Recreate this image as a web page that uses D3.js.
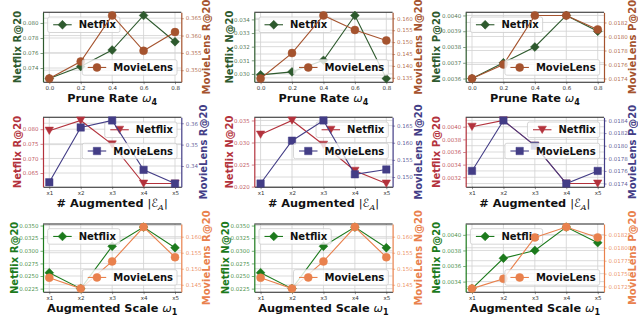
<!DOCTYPE html>
<html><head><meta charset="utf-8">
<script src="https://cdn.jsdelivr.net/npm/d3@7"></script>
<style>body{margin:0;background:#fff}svg{display:block}text{font-family:"DejaVu Sans",sans-serif}</style>
</head><body><svg id="c" width="638" height="320"></svg>
<script>
// ---------- data ----------
const prunePoints = [0, 0.2, 0.4, 0.6, 0.8];
const pruneTickLabels = ["0.0", "0.2", "0.4", "0.6", "0.8"];
const augPoints = [1, 2, 3, 4, 5];
const augTickLabels = ["x1", "x2", "x3", "x4", "x5"];

// row 1: prune rate
const netflixRecallPrune = [0.0726, 0.0742, 0.0764, 0.0810, 0.0775];
const movielensRecallPrune = [0.3476, 0.3525, 0.3658, 0.3556, 0.3610];
const netflixNdcgPrune = [0.02993, 0.03015, 0.03100, 0.03429, 0.02966];
const movielensNdcgPrune = [0.1347, 0.1454, 0.1612, 0.1551, 0.1507];
const netflixPrecPrune = [0.0036, 0.0037, 0.0038, 0.0040, 0.0039];
const movielensPrecPrune = [0.0174, 0.0176, 0.0183, 0.0183, 0.0181];
// row 2: number of augmented edges
const netflixRecallAug = [0.0795, 0.0830, 0.0748, 0.0614, 0.0614];
const movielensRecallAug = [0.3324, 0.3580, 0.3613, 0.3382, 0.3318];
const netflixNdcgAug = [0.0318, 0.0350, 0.0295, 0.0236, 0.0207];
const movielensNdcgAug = [0.1481, 0.1606, 0.1665, 0.1508, 0.1522];
const netflixPrecAug = [0.0040, 0.0041, 0.0037, 0.0031, 0.0031];
const movielensPrecAug = [0.0176, 0.0184, 0.0180, 0.0174, 0.0176];
// row 3: augmented scale
const netflixRecallScale = [0.02565, 0.0225, 0.0309, 0.0347, 0.0306];
const movielensRecallScale = [0.1472, 0.1438, 0.1523, 0.1630, 0.1536];
const netflixNdcgScale = [0.02565, 0.0225, 0.0309, 0.0347, 0.0306];
const movielensNdcgScale = [0.1472, 0.1438, 0.1523, 0.1630, 0.1536];
const netflixPrecScale = [0.00331, 0.0037, 0.0038, 0.0041, 0.0039];
const movielensPrecScale = [0.01721, 0.0174, 0.0182, 0.0184, 0.0182];

// tick values
const ticksNfRecallPrune = [0.074, 0.076, 0.078, 0.080];
const ticksMlRecallPrune = [0.350, 0.355, 0.360, 0.365];
const ticksNfNdcgPrune = [0.030, 0.031, 0.032, 0.033, 0.034];
const ticksMlNdcgPrune = [0.135, 0.140, 0.145, 0.150, 0.155, 0.160];
const ticksNfPrecPrune = [0.0036, 0.0037, 0.0038, 0.0039, 0.0040];
const ticksMlPrecPrune = [0.0174, 0.0176, 0.0178, 0.0180, 0.0182];
const ticksNfRecallAug = [0.065, 0.070, 0.075, 0.080];
const ticksMlRecallAug = [0.34, 0.35, 0.36];
const ticksNfNdcgAug = [0.020, 0.025, 0.030, 0.035];
const ticksMlNdcgAug = [0.150, 0.155, 0.160, 0.165];
const ticksNfPrecAug = [0.0032, 0.0034, 0.0036, 0.0038, 0.0040];
const ticksMlPrecAug = [0.0174, 0.0176, 0.0178, 0.0180, 0.0182, 0.0184];
const ticksNfScale = [0.0225, 0.0250, 0.0275, 0.0300, 0.0325, 0.0350];
const ticksMlScale = [0.145, 0.150, 0.155, 0.160];
const ticksNfPrecScale = [0.0034, 0.0036, 0.0038, 0.0040];
const ticksMlPrecScale = [0.01725, 0.01750, 0.01775, 0.01800, 0.01825];

// ---------- styling ----------
const markerDiamond = {draw(c, r){c.moveTo(0,-r);c.lineTo(r,0);c.lineTo(0,r);c.lineTo(-r,0);c.closePath();}};
const markerCircle = {draw(c, r){c.moveTo(r,0);c.arc(0,0,r,0,2*Math.PI);c.closePath();}};
const markerTriDown = {draw(c, r){c.moveTo(-r,-r*0.85);c.lineTo(r,-r*0.85);c.lineTo(0,r*0.9);c.closePath();}};
const markerSquare = {draw(c, r){c.rect(-r,-r,2*r,2*r);}};

const themes = [
  {nf:"#2e5a2e", ml:"#a5532e", nfM:markerDiamond, nfR:4.4, mlM:markerCircle, mlR:4, nfLeg:"ul", mlLeg:"lr"},
  {nf:"#b3323c", ml:"#433d86", nfM:markerTriDown, nfR:4.2, mlM:markerSquare, mlR:3.7, nfLeg:"ur", mlLeg:"cr"},
  {nf:"#1c7a1c", ml:"#e9814d", nfM:markerDiamond, nfR:4.4, mlM:markerCircle, mlR:4, nfLeg:"ul", mlLeg:"lr"}
];

const titleParts = [
  [{t:"Prune Rate "},{t:"\u03c9",it:true},{t:"4",sub:true}],
  [{t:"# Augmented "},{t:"|",plain:true},{t:"\u2130",plain:true},{t:"A",sub:true,it:true,serif:true},{t:"|",plain:true}],
  [{t:"Augmented Scale "},{t:"\u03c9",it:true},{t:"1",sub:true}]
];

const panels = [
  {row:0,col:0,xs:prunePoints,xl:pruneTickLabels,nf:netflixRecallPrune,ml:movielensRecallPrune,lt:ticksNfRecallPrune,rt:ticksMlRecallPrune,lf:".3f",rf:".3f",ly:"Netflix R@20",ry:"MovieLens R@20"},
  {row:0,col:1,xs:prunePoints,xl:pruneTickLabels,nf:netflixNdcgPrune,ml:movielensNdcgPrune,lt:ticksNfNdcgPrune,rt:ticksMlNdcgPrune,lf:".3f",rf:".3f",ly:"Netflix N@20",ry:"MovieLens N@20"},
  {row:0,col:2,xs:prunePoints,xl:pruneTickLabels,nf:netflixPrecPrune,ml:movielensPrecPrune,lt:ticksNfPrecPrune,rt:ticksMlPrecPrune,lf:".4f",rf:".4f",ly:"Netflix P@20",ry:"MovieLens P@20"},
  {row:1,col:0,xs:augPoints,xl:augTickLabels,nf:netflixRecallAug,ml:movielensRecallAug,lt:ticksNfRecallAug,rt:ticksMlRecallAug,lf:".3f",rf:".2f",ly:"Netflix R@20",ry:"MovieLens R@20"},
  {row:1,col:1,xs:augPoints,xl:augTickLabels,nf:netflixNdcgAug,ml:movielensNdcgAug,lt:ticksNfNdcgAug,rt:ticksMlNdcgAug,lf:".3f",rf:".3f",ly:"Netflix N@20",ry:"MovieLens N@20"},
  {row:1,col:2,xs:augPoints,xl:augTickLabels,nf:netflixPrecAug,ml:movielensPrecAug,lt:ticksNfPrecAug,rt:ticksMlPrecAug,lf:".4f",rf:".4f",ly:"Netflix P@20",ry:"MovieLens P@20"},
  {row:2,col:0,xs:augPoints,xl:augTickLabels,nf:netflixRecallScale,ml:movielensRecallScale,lt:ticksNfScale,rt:ticksMlScale,lf:".4f",rf:".3f",ly:"Netflix R@20",ry:"MovieLens R@20"},
  {row:2,col:1,xs:augPoints,xl:augTickLabels,nf:netflixNdcgScale,ml:movielensNdcgScale,lt:ticksNfScale,rt:ticksMlScale,lf:".4f",rf:".3f",ly:"Netflix N@20",ry:"MovieLens N@20"},
  {row:2,col:2,xs:augPoints,xl:augTickLabels,nf:netflixPrecScale,ml:movielensPrecScale,lt:ticksNfPrecScale,rt:ticksMlPrecScale,lf:".4f",rf:".5f",ly:"Netflix P@20",ry:"MovieLens P@20"}
];

const colLeft = [43, 254.3, 465.7], plotW = 138.3;
const rowTop = [12.3, 117.3, 224], rowH = [69.4, 69.4, 67.7];
const TICK_FS = 5.5;

const svg = d3.select("#c");
svg.append("rect").attr("width",638).attr("height",320).attr("fill","#fff");

function padDomain(vals, frac){
  const [a,b] = d3.extent(vals); const p = (b-a)*frac; return [a-p, b+p];
}

function drawLegend(g, kind, label, color, marker, mr, L, R, T, B){
  const h = 15.5;
  const lg = g.append("g");
  const box = lg.append("rect").attr("rx",2).attr("ry",2)
    .attr("fill","#fff").attr("fill-opacity",0.8).attr("stroke","#cccccc").attr("stroke-width",0.8);
  const txt = lg.append("text").attr("font-size",10).attr("font-weight","bold").attr("fill","#111").text(label);
  const tw = txt.node().getComputedTextLength();
  const w = 31 + tw + 4;
  let x, y;
  if (kind==="ul"){ x = L+4.7; y = T+4.7; }
  else if (kind==="ur"){ x = R-4.3-w; y = T+4.7; }
  else if (kind==="lr"){ x = R-4.3-w; y = B-6.5-h; }
  else { x = R-4.3-w; y = (T+B)/2 - h/2 - 1; }
  box.attr("x",x).attr("y",y).attr("width",w).attr("height",h);
  txt.attr("x",x+31).attr("y",y+h/2+3.6);
  lg.append("line").attr("x1",x+5.5).attr("x2",x+24).attr("y1",y+h/2).attr("y2",y+h/2)
    .attr("stroke",color).attr("stroke-width",1.1);
  lg.append("path").attr("d",d3.symbol().type(marker).size(mr)()).attr("transform",`translate(${x+14.75},${y+h/2})`)
    .attr("fill",color).attr("stroke",color).attr("stroke-width",0.5);
}

panels.forEach(p => {
  const th = themes[p.row];
  const L = colLeft[p.col], R = L+plotW, T = rowTop[p.row], B = T+rowH[p.row];
  const g = svg.append("g");
  const xd = d3.extent(p.xs), xp = (xd[1]-xd[0])*0.05;
  const x = d3.scaleLinear().domain([xd[0]-xp, xd[1]+xp]).range([L,R]);
  const yL = d3.scaleLinear().domain(padDomain(p.nf,0.05)).range([B,T]);
  const yR = d3.scaleLinear().domain(padDomain(p.ml,0.05)).range([B,T]);

  // grid
  const grid = g.append("g").attr("stroke","#d2d2d2").attr("stroke-width",0.8);
  p.xs.forEach(v => grid.append("line").attr("x1",x(v)).attr("x2",x(v)).attr("y1",T).attr("y2",B));
  p.lt.forEach(v => grid.append("line").attr("x1",L).attr("x2",R).attr("y1",yL(v)).attr("y2",yL(v)));
  p.rt.forEach(v => grid.append("line").attr("x1",L).attr("x2",R).attr("y1",yR(v)).attr("y2",yR(v)));

  // axes
  const ax = g.append("g").attr("transform",`translate(0,${B})`)
    .call(d3.axisBottom(x).tickValues(p.xs).tickFormat((d,i)=>p.xl[i]).tickSize(2.5).tickPadding(1.5).tickSizeOuter(0));
  ax.select(".domain").attr("stroke","#222").attr("stroke-width",1.1);
  ax.selectAll(".tick line").attr("stroke","#444").attr("stroke-width",0.6);
  ax.selectAll(".tick text").attr("font-size",TICK_FS).attr("fill","#333").attr("font-family","DejaVu Sans");

  const al = g.append("g").attr("transform",`translate(${L},0)`)
    .call(d3.axisLeft(yL).tickValues(p.lt).tickFormat(d3.format(p.lf)).tickSize(2.5).tickPadding(2).tickSizeOuter(0));
  al.select(".domain").attr("stroke",th.nf).attr("stroke-width",1.2);
  al.selectAll(".tick line").attr("stroke",th.nf).attr("stroke-width",0.6);
  al.selectAll(".tick text").attr("font-size",TICK_FS).attr("fill",th.nf).attr("fill-opacity",0.85).attr("font-family","DejaVu Sans");

  const ar = g.append("g").attr("transform",`translate(${R},0)`)
    .call(d3.axisRight(yR).tickValues(p.rt).tickFormat(d3.format(p.rf)).tickSize(2.5).tickPadding(2).tickSizeOuter(0));
  ar.select(".domain").attr("stroke",th.ml).attr("stroke-width",1.2);
  ar.selectAll(".tick line").attr("stroke",th.ml).attr("stroke-width",0.6);
  ar.selectAll(".tick text").attr("font-size",TICK_FS).attr("fill",th.ml).attr("fill-opacity",0.85).attr("font-family","DejaVu Sans");

  g.append("line").attr("x1",L).attr("x2",R).attr("y1",T).attr("y2",T).attr("stroke","#222").attr("stroke-width",1.1);

  // y labels
  const lb = al.node().getBBox();
  g.append("text").attr("transform",`translate(${L+lb.x-1.5},${(T+B)/2}) rotate(-90)`)
    .attr("text-anchor","middle").attr("font-size",10).attr("font-weight","bold").attr("fill",th.nf).text(p.ly);
  const rb = ar.node().getBBox();
  const rx = Math.min(R+rb.x+rb.width+8.3, 635.5);
  g.append("text").attr("transform",`translate(${rx},${(T+B)/2}) rotate(-90)`)
    .attr("text-anchor","middle").attr("font-size",10).attr("font-weight","bold").attr("fill",th.ml).text(p.ry);

  // x title
  const xt = g.append("text").attr("x",(L+R)/2).attr("y",B+19.8).attr("text-anchor","middle")
    .attr("font-size",11.3).attr("font-weight","bold").attr("fill","#111");
  let shifted = false;
  titleParts[p.row].forEach(part => {
    const ts = xt.append("tspan").text(part.t);
    if (part.it) ts.attr("font-style","italic").attr("font-weight","normal");
    if (part.plain) ts.attr("font-weight","normal");
    if (part.serif) ts.attr("font-family","DejaVu Serif");
    if (part.sub){ ts.attr("font-size",8).attr("dy",3); shifted = true; }
    else if (shifted){ ts.attr("dy",-3); shifted = false; }
  });

  // Netflix series (left axis)
  const lineL = d3.line().x((d,i)=>x(p.xs[i])).y(d=>yL(d));
  g.append("path").attr("d",lineL(p.nf)).attr("fill","none").attr("stroke",th.nf).attr("stroke-width",1.1);
  g.append("g").selectAll("path").data(p.nf).join("path")
    .attr("d",d3.symbol().type(th.nfM).size(th.nfR)())
    .attr("transform",(d,i)=>`translate(${x(p.xs[i])},${yL(d)})`)
    .attr("fill",th.nf).attr("stroke",th.nf).attr("stroke-width",0.5);
  drawLegend(g, th.nfLeg, "Netflix", th.nf, th.nfM, th.nfR, L, R, T, B);

  // MovieLens series (right axis)
  const lineR = d3.line().x((d,i)=>x(p.xs[i])).y(d=>yR(d));
  g.append("path").attr("d",lineR(p.ml)).attr("fill","none").attr("stroke",th.ml).attr("stroke-width",1.1);
  g.append("g").selectAll("path").data(p.ml).join("path")
    .attr("d",d3.symbol().type(th.mlM).size(th.mlR)())
    .attr("transform",(d,i)=>`translate(${x(p.xs[i])},${yR(d)})`)
    .attr("fill",th.ml).attr("stroke",th.ml).attr("stroke-width",0.5);
  drawLegend(g, th.mlLeg, "MovieLens", th.ml, th.mlM, th.mlR, L, R, T, B);
});
</script></body></html>
